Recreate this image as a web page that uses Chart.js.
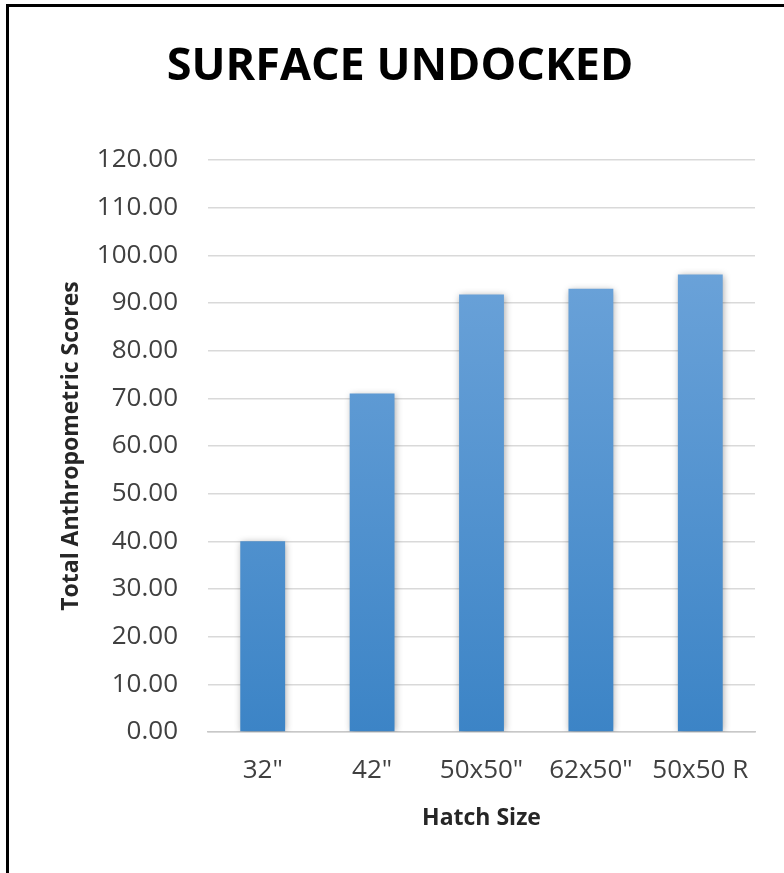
<!DOCTYPE html>
<html>
<head>
<meta charset="utf-8">
<script src="https://cdn.jsdelivr.net/npm/chart.js@4.4.1/dist/chart.umd.min.js"></script>
<style>
    html, body { margin: 0; padding: 0; background: #fff; }
    #wrap { position: relative; width: 784px; height: 873px; }
</style>
</head>
<body>
<div id="wrap"><canvas id="Chart" width="784" height="873"></canvas></div>
<script>
// chart data
const categories = ['32"', '42"', '50x50"', '62x50"', '50x50 R'];
const scores = [40, 71, 91.8, 93, 96];
const yTicks = [0, 10, 20, 30, 40, 50, 60, 70, 80, 90, 100, 110, 120];

const FONT = "'Open Sans', 'DejaVu Sans', sans-serif";

// black frame on left and top edges, plus soft bar shadow
const framePlugin = {
    id: "frame",
    afterLayout(chart) {
        // title sits a bit right of the canvas centre
        if (chart.titleBlock) {
            chart.titleBlock.left += 18;
            chart.titleBlock.right += 18;
        }
    },
    beforeDraw(chart) {
        let c = chart.ctx;
        c.save();
        c.fillStyle = "#fff";
        c.fillRect(0, 0, chart.width, chart.height);
        c.fillStyle = "#000";
        c.fillRect(6, 4, 3, chart.height - 4);
        c.fillRect(6, 4, chart.width - 6, 3);
        c.restore();
    },
    beforeDatasetsDraw(chart) {
        let c = chart.ctx;
        c.save();
        c.shadowColor = "rgba(0,0,0,0.35)";
        c.shadowBlur = 7;
        c.shadowOffsetX = 1;
        c.shadowOffsetY = 1;
    },
    afterDatasetsDraw(chart) {
        chart.ctx.restore();
    },
};

var ctx = document.getElementById("Chart").getContext("2d");

var chart = new Chart(ctx, {
    type: "bar",
    data: {
        labels: categories,
        datasets: [
            {
                data: scores,
                backgroundColor: function (context) {
                    let area = context.chart.chartArea;
                    if (!area) return "#5b9bd5";
                    let g = context.chart.ctx.createLinearGradient(0, area.top, 0, area.bottom);
                    g.addColorStop(0, "#75a9dd");
                    g.addColorStop(1, "#3c84c6");
                    return g;
                },
                borderWidth: 0,
                categoryPercentage: 1,
                barPercentage: 0.41,
            },
        ],
    },
    options: {
        responsive: false,
        animation: false,
        layout: {
            padding: { left: 9, right: 29, top: 7, bottom: 0 },
        },
        scales: {
            x: {
                grid: { display: false, drawTicks: false },
                border: { display: true, color: "#c8c8c8", width: 1.5 },
                ticks: {
                    color: "#404040",
                    font: { family: FONT, size: 26 },
                    padding: 23,
                    maxRotation: 0,
                },
                title: {
                    display: true,
                    text: "Hatch Size",
                    color: "#262626",
                    font: { family: FONT, size: 23, weight: "bold" },
                    padding: { top: 0, bottom: 41 },
                },
                afterFit: function (scale) {
                    scale.height = 141;
                },
            },
            y: {
                min: 0,
                max: 120,
                afterBuildTicks: function (scale) {
                    scale.ticks = yTicks.map(function (v) { return { value: v }; });
                },
                grid: { color: "#d9d9d9", lineWidth: 1.5, drawTicks: false },
                border: { display: false },
                ticks: {
                    color: "#404040",
                    font: { family: FONT, size: 26 },
                    padding: 30,
                    callback: function (v) { return v.toFixed(2); },
                },
                title: {
                    display: true,
                    text: "Total Anthropometric Scores",
                    color: "#262626",
                    font: { family: FONT, size: 23, weight: "bold" },
                    padding: { top: 49, bottom: 0 },
                },
                afterFit: function (scale) {
                    scale.width = 199;
                },
            },
        },
        plugins: {
            legend: { display: false },
            tooltip: { enabled: false },
            title: {
                display: true,
                text: "SURFACE UNDOCKED",
                color: "#000",
                font: { family: FONT, size: 45, weight: "bold" },
                padding: { top: 33, bottom: 66 },
            },
        },
    },
    plugins: [framePlugin],
});
</script>
</body>
</html>
